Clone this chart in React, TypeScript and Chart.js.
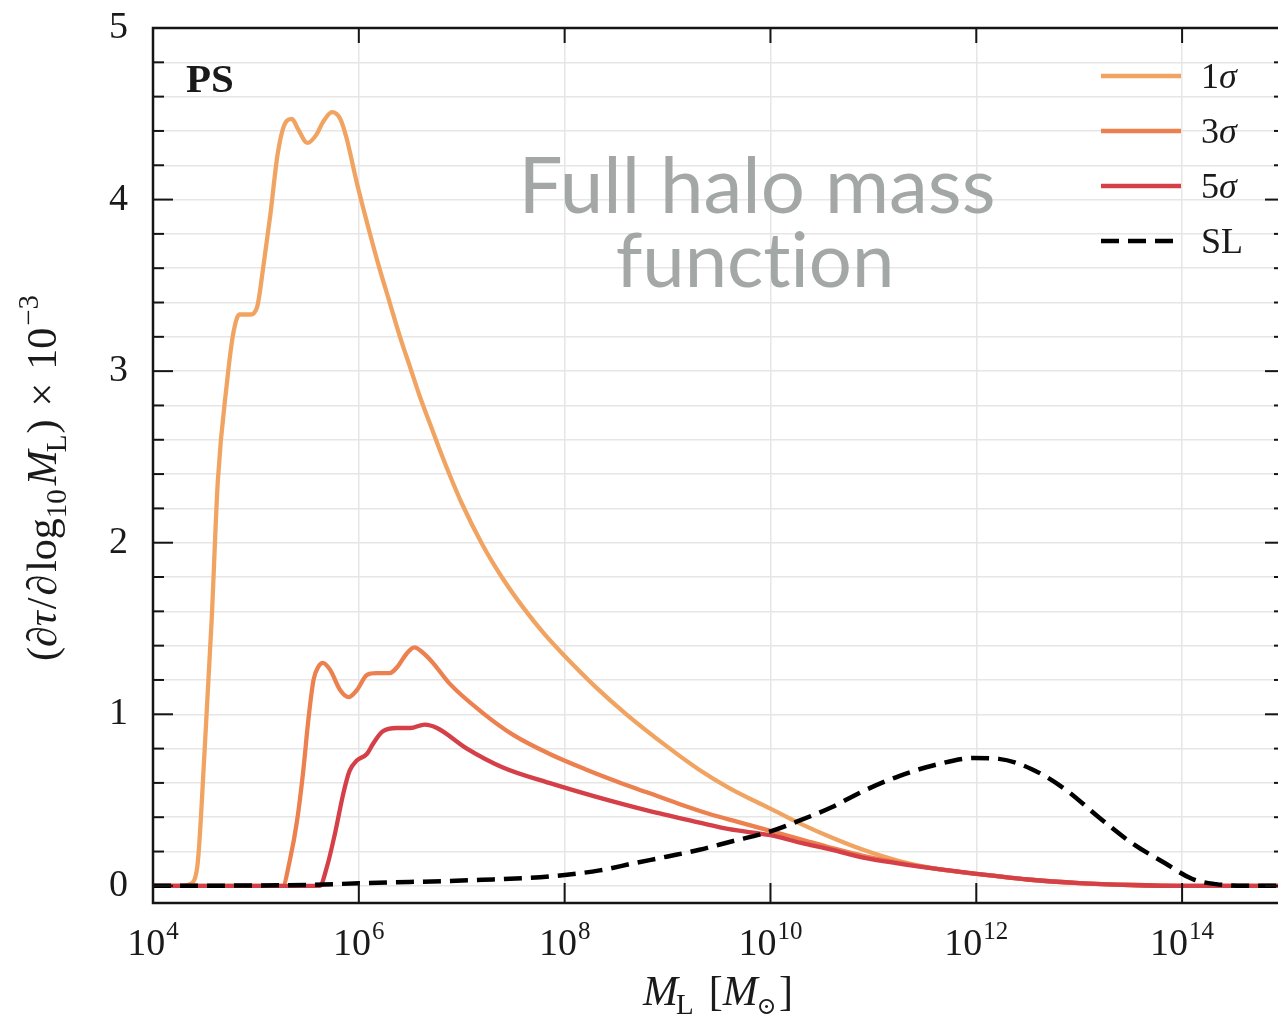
import React, { useEffect, useRef } from "react";
import { Chart, registerables } from "chart.js";

Chart.register(...registerables);

// ---------------- data (log10 M_L and d tau / d log10 M_L x 1e-3) ----------------
const LOGM_1S = [4.0, 4.3, 4.36, 4.43, 4.5, 4.57, 4.63, 4.72, 4.78, 4.84, 4.94, 5.01, 5.07, 5.14, 5.21, 5.28, 5.35, 5.41, 5.5, 5.59, 5.65, 5.74, 5.82, 5.88, 5.98, 6.1, 6.2, 6.3, 6.4, 6.5, 6.6, 6.7, 6.8, 6.9, 7.0, 7.2, 7.4, 7.6, 7.8, 8.0, 8.3, 8.6, 9.0, 9.3, 9.6, 10.0, 10.3, 10.6, 10.9, 11.25, 11.6, 12.0, 12.5, 13.0, 13.5, 14.0, 15.0];
const TAU_1S = [0, 0, 0.01, 0.11, 0.77, 1.55, 2.36, 2.94, 3.22, 3.33, 3.33, 3.37, 3.6, 3.91, 4.26, 4.44, 4.47, 4.41, 4.33, 4.38, 4.45, 4.51, 4.47, 4.36, 4.1, 3.82, 3.6, 3.4, 3.2, 3.02, 2.84, 2.68, 2.52, 2.37, 2.23, 1.99, 1.79, 1.62, 1.47, 1.34, 1.16, 1.0, 0.81, 0.68, 0.57, 0.45, 0.36, 0.28, 0.21, 0.145, 0.1, 0.07, 0.037, 0.016, 0.005, 0, 0];

const LOGM_3S = [4.0, 5.26, 5.33, 5.4, 5.46, 5.51, 5.56, 5.61, 5.65, 5.72, 5.82, 5.9, 5.98, 6.08, 6.17, 6.3, 6.38, 6.46, 6.54, 6.62, 6.72, 6.88, 7.2, 7.5, 7.85, 8.2, 8.5, 8.8, 9.1, 9.4, 9.7, 10.0, 10.3, 10.6, 10.9, 11.25, 11.6, 12.0, 12.5, 13.0, 13.5, 14.0, 15.0];
const TAU_3S = [0, 0, 0.15, 0.38, 0.67, 0.97, 1.2, 1.28, 1.3, 1.26, 1.14, 1.1, 1.14, 1.23, 1.24, 1.24, 1.28, 1.35, 1.39, 1.36, 1.3, 1.18, 1.01, 0.88, 0.77, 0.68, 0.61, 0.545, 0.48, 0.42, 0.37, 0.32, 0.27, 0.22, 0.175, 0.135, 0.1, 0.07, 0.037, 0.016, 0.005, 0, 0];

const LOGM_5S = [4.0, 5.62, 5.69, 5.77, 5.85, 5.91, 5.98, 6.08, 6.14, 6.23, 6.37, 6.5, 6.64, 6.76, 7.05, 7.4, 7.85, 8.3, 8.8, 9.3, 9.6, 10.0, 10.3, 10.6, 10.9, 11.25, 11.6, 12.0, 12.5, 13.0, 13.5, 14.0, 15.0];
const TAU_5S = [0, 0, 0.11, 0.31, 0.54, 0.67, 0.73, 0.77, 0.83, 0.9, 0.92, 0.92, 0.94, 0.92, 0.8, 0.69, 0.6, 0.52, 0.44, 0.37, 0.33, 0.295, 0.25, 0.21, 0.165, 0.13, 0.1, 0.07, 0.037, 0.016, 0.005, 0, 0];

const LOGM_SL = [4.0, 5.5, 6.0, 7.2, 7.85, 8.34, 8.66, 8.99, 9.31, 9.63, 9.96, 10.28, 10.6, 10.93, 11.25, 11.57, 11.98, 12.22, 12.54, 12.87, 13.19, 13.51, 13.84, 14.1, 14.33, 14.6, 15.0];
const TAU_SL = [0, 0.005, 0.015, 0.035, 0.055, 0.09, 0.13, 0.17, 0.21, 0.26, 0.31, 0.38, 0.46, 0.56, 0.64, 0.7, 0.745, 0.74, 0.68, 0.56, 0.4, 0.25, 0.13, 0.04, 0.01, 0, 0];

const SERIES_LABELS = ["1σ", "3σ", "5σ", "SL"];
const SERIES_COLORS = ["rgb(241,164,98)", "rgb(236,128,78)", "rgb(213,64,72)", "#000000"];

// ---------------- axes ----------------
const X_MIN_EXP = 4;
const X_MAX_EXP = 15;
const X_LABEL_EXPONENTS = ["4", "6", "8", "10", "12", "14"];
const X_GRID_EXPONENTS = [6, 8, 10, 12, 14];
const Y_MIN = -0.1;
const Y_MAX = 5;
const Y_GRID = [0, 0.2, 0.4, 0.6, 0.8, 1, 1.2, 1.4, 1.6, 1.8, 2, 2.2, 2.4, 2.6, 2.8, 3, 3.2, 3.4, 3.6, 3.8, 4, 4.2, 4.4, 4.6, 4.8, 5];
const Y_LABELS = [0, 1, 2, 3, 4, 5];

const SERIF = "'Liberation Serif', 'DejaVu Serif', serif";
const W = 1290;
const H = 1021;

type Seg = { t: string; f: string; dy?: number; dx?: number };

function richWidth(ctx: CanvasRenderingContext2D, segs: Seg[]) {
  let w = 0;
  for (const s of segs) {
    ctx.font = s.f;
    w += ctx.measureText(s.t).width + (s.dx || 0);
  }
  return w;
}

function drawRich(ctx: CanvasRenderingContext2D, segs: Seg[], x: number, y: number) {
  let cx = x;
  for (const s of segs) {
    ctx.font = s.f;
    cx += s.dx || 0;
    ctx.fillText(s.t, cx, y + (s.dy || 0));
    cx += ctx.measureText(s.t).width;
  }
}

const R = (n: number) => `${n}px ${SERIF}`;
const I = (n: number) => `italic ${n}px ${SERIF}`;

const decorPlugin = {
  id: "decor",
  afterDraw(chart: any) {
    const ctx: CanvasRenderingContext2D = chart.ctx;
    const a = chart.chartArea;
    const xs = chart.scales.x;
    const ys = chart.scales.y;
    ctx.save();
    ctx.strokeStyle = "#151515";
    ctx.lineWidth = 2;
    ctx.setLineDash([]);
    const line = (x1: number, y1: number, x2: number, y2: number) => {
      ctx.beginPath();
      ctx.moveTo(x1, y1);
      ctx.lineTo(x2, y2);
      ctx.stroke();
    };
    // inward ticks
    for (const v of Y_GRID) {
      const py = ys.getPixelForValue(v);
      const major = Y_LABELS.includes(v);
      const len = major ? 20 : 11;
      line(a.left, py, a.left + len, py);
      line(a.right, py, a.right - len, py);
    }
    for (const e of X_GRID_EXPONENTS) {
      const px = xs.getPixelForValue(Math.pow(10, e));
      line(px, a.bottom, px, a.bottom - 20);
      line(px, a.top, px, a.top + 15);
    }
    // frame
    ctx.lineWidth = 2.5;
    ctx.strokeRect(a.left, a.top, a.right - a.left, a.bottom - a.top);

    ctx.fillStyle = "#1a1a1a";
    ctx.textBaseline = "alphabetic";
    ctx.textAlign = "left";

    // x tick labels 10^k
    for (const e of X_LABEL_EXPONENTS) {
      const px = xs.getPixelForValue(Math.pow(10, Number(e)));
      const segs: Seg[] = [
        { t: "10", f: R(38) },
        { t: e, f: R(25), dy: -16, dx: 1 },
      ];
      const w = richWidth(ctx, segs);
      drawRich(ctx, segs, px - w / 2, 955);
    }

    // x axis title
    const xt: Seg[] = [
      { t: "M", f: I(42) },
      { t: "L", f: R(29), dy: 9, dx: -2 },
      { t: "[", f: R(42), dx: 15 },
      { t: "M", f: I(42) },
      { t: "⊙", f: R(24), dy: 9, dx: -1 },
      { t: "]", f: R(42), dx: 2 },
    ];
    const xw = richWidth(ctx, xt);
    drawRich(ctx, xt, 718 - xw / 2, 1005);

    // y axis title (rotated)
    const yt: Seg[] = [
      { t: "(", f: R(42) },
      { t: "∂", f: I(42) },
      { t: "τ", f: I(42) },
      { t: "/", f: R(42), dx: 2 },
      { t: "∂", f: I(42), dx: 2 },
      { t: "log", f: R(42), dx: 3 },
      { t: "10", f: R(29), dy: 10 },
      { t: "M", f: I(42), dx: 4 },
      { t: "L", f: R(29), dy: 10, dx: -2 },
      { t: ")", f: R(42), dx: 1 },
      { t: "×", f: R(42), dx: 13 },
      { t: "10", f: R(42), dx: 13 },
      { t: "−3", f: R(29), dy: -18, dx: 2 },
    ];
    ctx.save();
    ctx.translate(56, 478);
    ctx.rotate(-Math.PI / 2);
    const yw = richWidth(ctx, yt);
    drawRich(ctx, yt, -yw / 2, 0);
    ctx.restore();

    // PS label
    ctx.font = `bold 41px ${SERIF}`;
    ctx.fillText("PS", 186, 92);

    // annotation
    ctx.save();
    (ctx as any).textRendering = "optimizeSpeed";
    ctx.fillStyle = "#a3a8a6";
    ctx.textAlign = "center";
    ctx.font = "78px Lato, 'Open Sans', sans-serif";
    ctx.fillText("Full halo mass", 757, 213);
    ctx.font = "76px Lato, 'Open Sans', sans-serif";
    ctx.fillText("function", 755, 287);
    ctx.restore();

    // legend
    ctx.textAlign = "left";
    const ly = [76, 131, 186, 241];
    chart.data.datasets.forEach((ds: any) => {
      const idx = SERIES_LABELS.indexOf(ds.label);
      const y = ly[idx];
      ctx.strokeStyle = ds.borderColor;
      ctx.lineWidth = 4.5;
      ctx.setLineDash(ds.borderDash || []);
      ctx.lineCap = "butt";
      line(1101, y, 1181, y);
      ctx.setLineDash([]);
      ctx.fillStyle = "#1a1a1a";
      const lab = ds.label as string;
      const segs: Seg[] = lab === "SL"
        ? [{ t: "SL", f: R(36) }]
        : [{ t: lab[0], f: R(36) }, { t: lab.slice(1), f: I(36) }];
      drawRich(ctx, segs, 1201, y + 12);
    });
    ctx.restore();
  },
};

function pts(lm: number[], v: number[]) {
  return lm.map((l, i) => ({ x: Math.pow(10, l), y: v[i] }));
}

export default function App() {
  const ref = useRef<HTMLCanvasElement | null>(null);
  useEffect(() => {
    if (!ref.current) return;
    const mk = (i: number, lm: number[], v: number[], order: number, dash?: number[]) => ({
      label: SERIES_LABELS[i],
      data: pts(lm, v),
      borderColor: SERIES_COLORS[i],
      backgroundColor: SERIES_COLORS[i],
      borderWidth: i === 3 ? 4.5 : 4.3,
      borderDash: dash,
      pointRadius: 0,
      cubicInterpolationMode: "monotone" as const,
      fill: false,
      order,
    });
    const chart = new Chart(ref.current, {
      type: "line",
      data: {
        datasets: [
          mk(0, LOGM_1S, TAU_1S, 3),
          mk(1, LOGM_3S, TAU_3S, 2),
          mk(2, LOGM_5S, TAU_5S, 1),
          mk(3, LOGM_SL, TAU_SL, 0, [18, 9]),
        ],
      },
      options: {
        responsive: false,
        animation: false,
        devicePixelRatio: 1,
        layout: { padding: { left: 0, top: 28, right: 5, bottom: 0 } },
        plugins: { legend: { display: false }, tooltip: { enabled: false } },
        scales: {
          x: {
            type: "logarithmic",
            min: Math.pow(10, X_MIN_EXP),
            max: Math.pow(10, X_MAX_EXP),
            afterBuildTicks: (s: any) => {
              s.ticks = X_GRID_EXPONENTS.map((e) => ({ value: Math.pow(10, e) }));
            },
            afterFit: (s: any) => {
              s.height = 118;
              s.paddingLeft = 0;
              s.paddingRight = 0;
            },
            ticks: { display: false },
            grid: { color: "#e6e6e6", lineWidth: 1.5, drawTicks: false },
            border: { display: false },
          },
          y: {
            type: "linear",
            min: Y_MIN,
            max: Y_MAX,
            afterBuildTicks: (s: any) => {
              s.ticks = Y_GRID.map((v) => ({ value: v }));
            },
            afterFit: (s: any) => {
              s.width = 153;
              s.paddingTop = 0;
              s.paddingBottom = 0;
            },
            ticks: {
              autoSkip: false,
              padding: 25,
              color: "#1a1a1a",
              font: { family: SERIF, size: 38 },
              callback: (v: any) => (Y_LABELS.includes(Number(v)) ? String(v) : ""),
            },
            grid: { color: "#e6e6e6", lineWidth: 1.5, drawTicks: false },
            border: { display: false },
          },
        },
      },
      plugins: [decorPlugin],
    } as any);
    return () => chart.destroy();
  }, []);
  return (
    <div style={{ position: "fixed", left: 0, top: 0, width: 1278, height: 1021, overflow: "hidden", background: "#fff" }}>
      <canvas ref={ref} width={W} height={H} style={{ display: "block", width: W, height: H }} />
    </div>
  );
}
